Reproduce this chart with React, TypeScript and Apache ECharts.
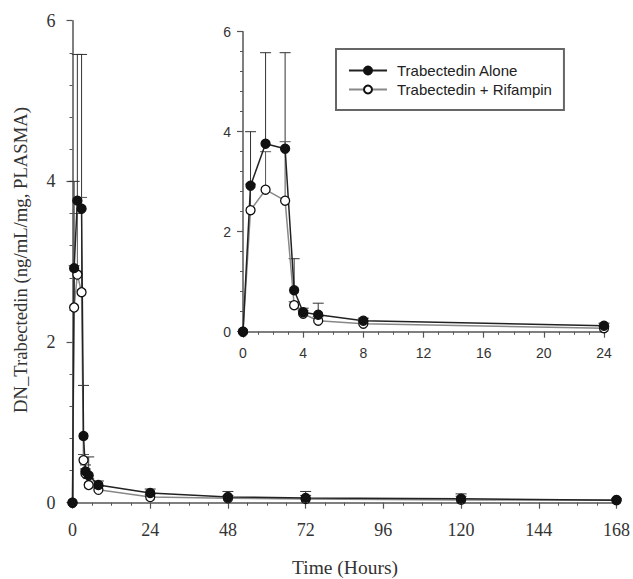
import React, { useEffect, useRef } from "react";
import * as echarts from "echarts";

// Sampling times (hours)
const times = [0, 0.5, 1.5, 2.8, 3.4, 4, 5, 8, 24, 48, 72, 120, 168];

// Mean dose-normalised concentrations (ng/mL/mg)
const aloneMean = [0, 2.92, 3.76, 3.66, 0.83, 0.39, 0.34, 0.22, 0.12, 0.07, 0.06, 0.05, 0.03];
const rifMean = [0, 2.43, 2.84, 2.62, 0.53, 0.36, 0.22, 0.16, 0.07, 0.055, 0.045, 0.035, 0.035];

// Upper error limits (mean + SD)
const aloneUpper = [null, 4.0, 5.58, 5.58, 1.46, 0.47, 0.57, 0.27, 0.17, 0.14, 0.14, 0.11, null];
const rifUpper = [null, 2.95, 3.6, 3.8, 0.6, 0.42, 0.3, 0.2, 0.1, 0.09, 0.09, 0.08, 0.05];

const mainXTicks = [0, 24, 48, 72, 96, 120, 144, 168];
const insetXTicks = [0, 4, 8, 12, 16, 20, 24];
const yTicks = [0, 2, 4, 6];

const NAME_ALONE = "Trabectedin Alone";
const NAME_RIF = "Trabectedin + Rifampin";

const SERIF = "'Liberation Serif', 'DejaVu Serif', serif";
const SANS = "'Liberation Sans', Arial, sans-serif";

function pairs(mean: number[], maxT: number) {
  return times.map((t, i) => [t, mean[i]]).filter((p) => p[0] <= maxT);
}

function errorData(mean: number[], upper: (number | null)[], maxT: number) {
  const out: number[][] = [];
  times.forEach((t, i) => {
    const u = upper[i];
    if (u != null && t <= maxT) out.push([t, mean[i], u]);
  });
  return out;
}

function errorSeries(
  mean: number[],
  upper: (number | null)[],
  axisIndex: number,
  maxT: number,
  color: string
) {
  return {
    type: "custom",
    xAxisIndex: axisIndex,
    yAxisIndex: axisIndex,
    z: 1,
    silent: true,
    encode: { x: 0, y: [1, 2] },
    data: errorData(mean, upper, maxT),
    renderItem: (params: any, api: any) => {
      const x = api.value(0);
      const m = api.value(1);
      const u = api.value(2);
      const p0 = api.coord([x, m]);
      const p1 = api.coord([x, u]);
      const style = { stroke: color, lineWidth: 1 };
      return {
        type: "group",
        children: [
          { type: "line", shape: { x1: p0[0], y1: p0[1], x2: p1[0], y2: p1[1] }, style },
          { type: "line", shape: { x1: p1[0] - 5.5, y1: p1[1], x2: p1[0] + 5.5, y2: p1[1] }, style },
        ],
      };
    },
  };
}

function lineSeries(name: string, mean: number[], axisIndex: number, maxT: number, filled: boolean) {
  return {
    name,
    type: "line",
    xAxisIndex: axisIndex,
    yAxisIndex: axisIndex,
    z: 3,
    data: pairs(mean, maxT),
    symbol: "circle",
    symbolSize: 9,
    showSymbol: true,
    lineStyle: { color: filled ? "#222" : "#888", width: 1.5 },
    itemStyle: {
      color: filled ? "#111" : "#fff",
      borderColor: "#111",
      borderWidth: 1.3,
    },
  };
}

function valueAxis(opts: any) {
  return {
    type: "value",
    axisLine: { show: true, lineStyle: { color: "#555", width: 1.5 } },
    axisTick: { show: true, length: 6, lineStyle: { color: "#555", width: 1.2 } },
    splitLine: { show: false },
    ...opts,
  };
}

export default function App() {
  const ref = useRef<HTMLDivElement>(null);

  useEffect(() => {
    if (!ref.current) return;
    const chart = echarts.init(ref.current, null, { renderer: "svg" });

    const mainLabel = { fontFamily: SERIF, fontSize: 18, color: "#333" };
    const insetLabel = { fontFamily: SANS, fontSize: 14, color: "#333" };
    const minor = (n: number) => ({ show: true, splitNumber: n, length: 3, lineStyle: { color: "#555", width: 1 } });

    chart.setOption({
      animation: false,
      backgroundColor: "#fff",
      grid: [
        { left: 72.5, top: 20.7, width: 544, height: 482 },
        { left: 243, top: 31.7, width: 361, height: 300 },
      ],
      xAxis: [
        valueAxis({
          gridIndex: 0,
          min: mainXTicks[0],
          max: mainXTicks[mainXTicks.length - 1],
          interval: 24,
          minorTick: minor(4),
          axisLabel: { ...mainLabel, margin: 18 },
        }),
        valueAxis({
          gridIndex: 1,
          min: insetXTicks[0],
          max: insetXTicks[insetXTicks.length - 1],
          interval: 4,
          minorTick: minor(4),
          axisLabel: { ...insetLabel, margin: 14 },
        }),
      ],
      yAxis: [
        valueAxis({
          gridIndex: 0,
          min: yTicks[0],
          max: yTicks[yTicks.length - 1],
          interval: 2,
          minorTick: minor(5),
          axisLabel: { ...mainLabel, margin: 17 },
        }),
        valueAxis({
          gridIndex: 1,
          min: yTicks[0],
          max: yTicks[yTicks.length - 1],
          interval: 2,
          minorTick: minor(5),
          axisLabel: { ...insetLabel, margin: 12 },
        }),
      ],
      legend: {
        data: [NAME_ALONE, NAME_RIF],
        orient: "vertical",
        left: 336,
        top: 49,
        padding: [14, 12, 13, 12],
        itemWidth: 38,
        itemHeight: 10,
        itemGap: 4,
        borderColor: "#666",
        borderWidth: 2,
        textStyle: { fontFamily: SANS, fontSize: 15, color: "#222", lineHeight: 15, padding: [0, 0, 0, 5] },
      },
      graphic: [
        {
          type: "text",
          x: 20,
          y: 260,
          rotation: Math.PI / 2,
          style: {
            text: "DN_Trabectedin (ng/mL/mg, PLASMA)",
            fontFamily: SERIF,
            fontSize: 18.7,
            fill: "#333",
            align: "center",
            verticalAlign: "middle",
          },
        },
        {
          type: "text",
          x: 345,
          y: 567,
          style: {
            text: "Time (Hours)",
            fontFamily: SERIF,
            fontSize: 19.5,
            fill: "#333",
            align: "center",
            verticalAlign: "middle",
          },
        },
      ],
      series: [
        errorSeries(aloneMean, aloneUpper, 0, 168, "#333"),
        errorSeries(rifMean, rifUpper, 0, 168, "#555"),
        lineSeries(NAME_RIF, rifMean, 0, 168, false),
        lineSeries(NAME_ALONE, aloneMean, 0, 168, true),
        errorSeries(aloneMean, aloneUpper, 1, 24, "#333"),
        errorSeries(rifMean, rifUpper, 1, 24, "#555"),
        lineSeries(NAME_RIF, rifMean, 1, 24, false),
        lineSeries(NAME_ALONE, aloneMean, 1, 24, true),
      ],
    });

    return () => chart.dispose();
  }, []);

  return (
    <div
      ref={ref}
      style={{ position: "fixed", left: 0, top: 0, width: 633, height: 579 }}
    />
  );
}
